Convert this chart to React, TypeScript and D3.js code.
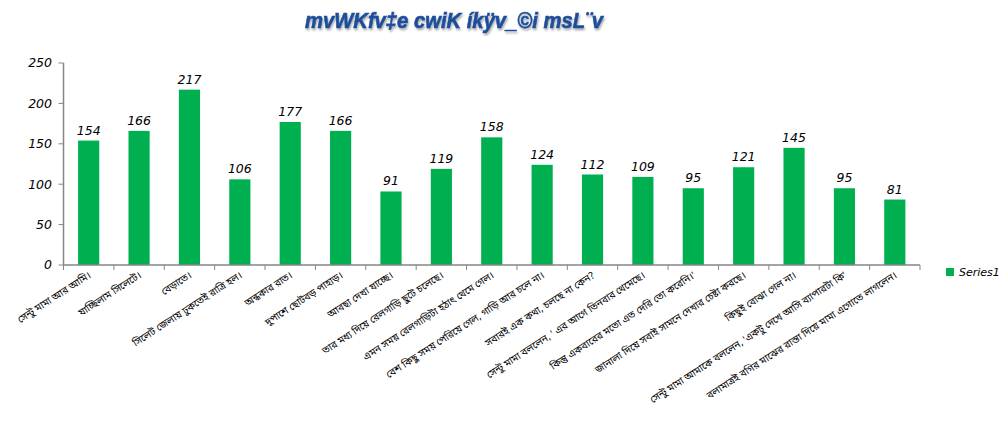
import React from "react";
import * as d3 from "d3";

const categories: string[] = [
  "সেন্টু মামা আর আমি।",
  "যাচ্ছিলাম সিলেটে।",
  "বেড়াতে।",
  "সিলেট জেলায় ঢুকতেই রাত্রি হল।",
  "অন্ধকার রাত।",
  "দুপাশে ছোটবড় পাহাড়।",
  "আবছা দেখা যাচ্ছে।",
  "তার মধ্য দিয়ে রেলগাড়ি ছুটে চলেছে।",
  "এমন সময় রেলগাড়িটা হঠাৎ থেমে গেল।",
  "বেশ কিছু সময় পেরিয়ে গেল, গাড়ি আর চলে না।",
  "সবারই এক কথা, চলছে না কেন?",
  "সেন্টু মামা বললেন, ' এর আগে তিনবার থেমেছে।",
  "কিন্তু একবারের মতো এত দেরি তো করেনি।'",
  "জানালা দিয়ে সবাই সামনে দেখার চেষ্টা করছে।",
  "কিছুই বোঝা গেল না।",
  "সেন্টু মামা আমাকে বললেন, 'একটু দেখে আসি ব্যাপারটা কি'",
  "বলামাত্রই বগির মাঝের রাস্তা দিয়ে মামা এগোতে লাগলেন।",
];
const series1: number[] = [154, 166, 217, 106, 177, 166, 91, 119, 158, 124, 112, 109, 95, 121, 145, 95, 81];
const yTicks: number[] = [0, 50, 100, 150, 200, 250];
const title = "mvWKfv‡e cwiK íkÿv_©i msL¨v";
const seriesName = "Series1";

const W = 1008;
const H = 427;
const left = 63.5;
const right = 920;
const top = 63;
const bottom = 265;
const green = "#00B050";
const axisColor = "#868686";
const numFont = "'DejaVu Sans', Verdana, sans-serif";

export default function App() {
  const x = d3
    .scaleBand<number>()
    .domain(d3.range(categories.length))
    .range([left, right])
    .paddingInner(0.58)
    .paddingOuter(0.29);
  const y = d3.scaleLinear().domain([0, 250]).range([bottom, top]);
  const step = (right - left) / categories.length;

  return (
    <svg width={W} height={H} style={{ position: "absolute", left: 0, top: 0, background: "#fff" }}>
      <defs>
        <filter id="ts" x="-10%" y="-30%" width="120%" height="160%">
          <feGaussianBlur in="SourceAlpha" stdDeviation="1.2" />
          <feOffset dx="1" dy="1.5" result="b" />
          <feComponentTransfer><feFuncA type="linear" slope="0.35" /></feComponentTransfer>
          <feMerge>
            <feMergeNode />
            <feMergeNode in="SourceGraphic" />
          </feMerge>
        </filter>
      </defs>
      <text
        x={454}
        y={28}
        textAnchor="middle"
        fontFamily="'Liberation Sans', Arial, sans-serif"
        fontWeight="bold"
        fontStyle="italic"
        fontSize={22}
        fill="#1F4E99"
        stroke="#1F4E99"
        strokeWidth={0.6}
        textLength={298}
        lengthAdjust="spacingAndGlyphs"
        filter="url(#ts)"
      >
        {title}
      </text>

      {/* y axis */}
      <line x1={left} x2={left} y1={top} y2={bottom} stroke={axisColor} strokeWidth={1.5} />
      {yTicks.map((t) => (
        <g key={t}>
          <line x1={left - 5} x2={left} y1={y(t)} y2={y(t)} stroke={axisColor} strokeWidth={1} />
          <text
            x={52}
            y={y(t)}
            dy="0.35em"
            textAnchor="end"
            fontFamily={numFont}
            fontStyle="italic"
            fontSize={12.5}
            fill="#000"
          >
            {t}
          </text>
        </g>
      ))}

      {/* bars */}
      {series1.map((v, i) => (
        <g key={i}>
          <rect x={x(i)} y={y(v)} width={x.bandwidth()} height={bottom - y(v)} fill={green} />
          <text
            x={(x(i) as number) + x.bandwidth() / 2}
            y={y(v) - 6}
            textAnchor="middle"
            fontFamily={numFont}
            fontStyle="italic"
            fontSize={12.5}
            fill="#000"
          >
            {v}
          </text>
        </g>
      ))}

      {/* x axis */}
      <line x1={left} x2={right} y1={bottom} y2={bottom} stroke={axisColor} strokeWidth={1.5} />
      {d3.range(categories.length + 1).map((i) => (
        <line
          key={i}
          x1={left + i * step}
          x2={left + i * step}
          y1={bottom}
          y2={bottom + 5}
          stroke={axisColor}
          strokeWidth={1}
        />
      ))}
      {categories.map((c, i) => {
        const cx = (x(i) as number) + x.bandwidth() / 2 + 3;
        const cy = bottom + 12;
        return (
          <text
            key={i}
            transform={`translate(${cx},${cy}) rotate(-33)`}
            textAnchor="end"
            fontFamily="'Noto Sans Bengali', 'Noto Sans', sans-serif"
            fontSize={10}
            fill="#000"
          >
            {c}
          </text>
        );
      })}

      {/* legend */}
      <rect x={946} y={268} width={8} height={8} fill={green} />
      <text x={959} y={276} fontFamily={numFont} fontStyle="italic" fontSize={11} fill="#000">
        {seriesName}
      </text>
    </svg>
  );
}
